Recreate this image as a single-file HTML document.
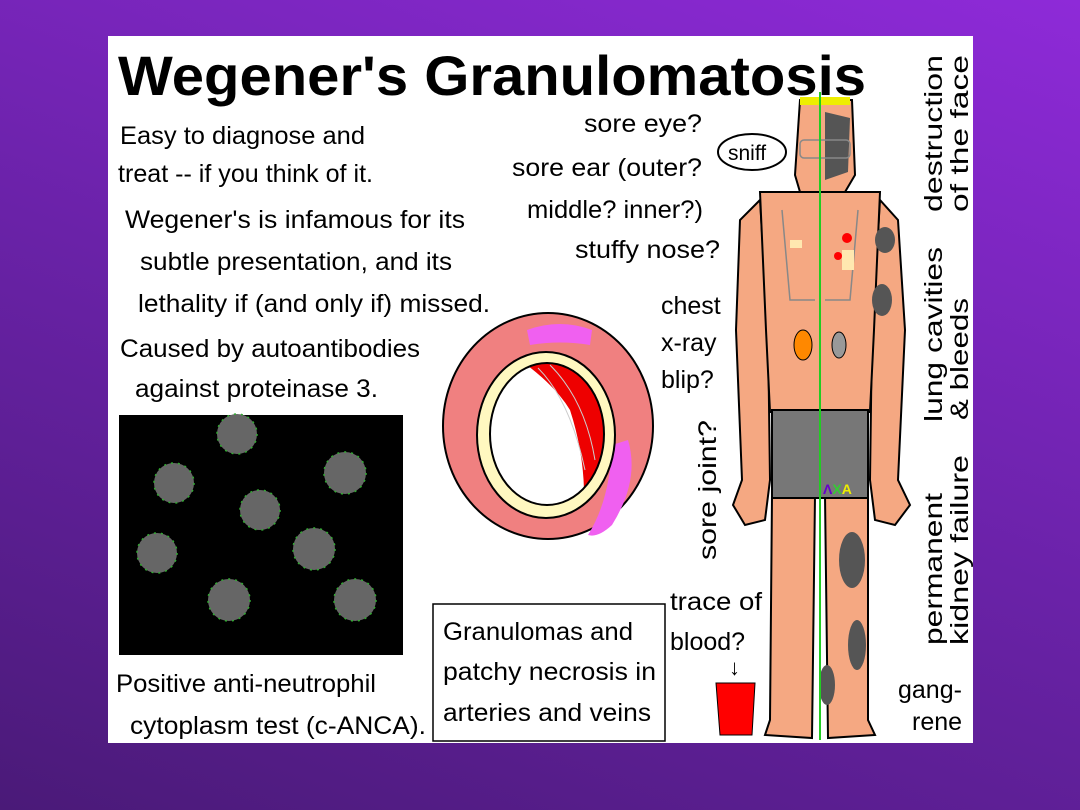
<!DOCTYPE html>
<html><head><meta charset="utf-8"><style>
html,body{margin:0;padding:0}
body{width:1080px;height:810px;overflow:hidden;background:linear-gradient(20deg,#4a1a78 0%,#6a22a8 50%,#8e2ad8 100%);position:relative;font-family:"Liberation Sans",sans-serif}
</style></head><body>
<svg width="1080" height="810" style="position:absolute;left:0;top:0" font-family="Liberation Sans, sans-serif">
<defs><clipPath id="lum"><ellipse cx="547" cy="434" rx="57" ry="71"/></clipPath></defs>
<rect x="108" y="36" width="865" height="707" fill="#fff"/>
<text x="118" y="95" font-size="56" font-weight="bold" fill="#000" textLength="748" lengthAdjust="spacingAndGlyphs">Wegener's Granulomatosis</text>
<g font-size="25" fill="#000">
<text x="120" y="144" textLength="245" lengthAdjust="spacingAndGlyphs">Easy to diagnose and</text>
<text x="118" y="182" textLength="255" lengthAdjust="spacingAndGlyphs">treat -- if you think of it.</text>
<text x="125" y="228" textLength="340" lengthAdjust="spacingAndGlyphs">Wegener's is infamous for its</text>
<text x="140" y="270" textLength="312" lengthAdjust="spacingAndGlyphs">subtle presentation, and its</text>
<text x="138" y="312" textLength="352" lengthAdjust="spacingAndGlyphs">lethality if (and only if) missed.</text>
<text x="120" y="357" textLength="300" lengthAdjust="spacingAndGlyphs">Caused by autoantibodies</text>
<text x="135" y="397" textLength="243" lengthAdjust="spacingAndGlyphs">against proteinase 3.</text>
<text x="116" y="692" textLength="260" lengthAdjust="spacingAndGlyphs">Positive anti-neutrophil</text>
<text x="130" y="734" textLength="296" lengthAdjust="spacingAndGlyphs">cytoplasm test (c-ANCA).</text>
<text x="584" y="132" textLength="118" lengthAdjust="spacingAndGlyphs">sore eye?</text>
<text x="512" y="176" textLength="190" lengthAdjust="spacingAndGlyphs">sore ear (outer?</text>
<text x="527" y="218" textLength="176" lengthAdjust="spacingAndGlyphs">middle? inner?)</text>
<text x="575" y="258" textLength="145" lengthAdjust="spacingAndGlyphs">stuffy nose?</text>
<text x="661" y="314">chest</text>
<text x="661" y="351">x-ray</text>
<text x="661" y="388">blip?</text>
<text x="670" y="610" textLength="92" lengthAdjust="spacingAndGlyphs">trace of</text>
<text x="670" y="650">blood?</text>
<text x="898" y="698">gang-</text>
<text x="912" y="730">rene</text>
<text transform="translate(716,560) rotate(-90)" textLength="140" lengthAdjust="spacingAndGlyphs">sore joint?</text>
<text transform="translate(942,212) rotate(-90)" textLength="157" lengthAdjust="spacingAndGlyphs">destruction</text>
<text transform="translate(968,212) rotate(-90)" textLength="157" lengthAdjust="spacingAndGlyphs">of the face</text>
<text transform="translate(942,422) rotate(-90)" textLength="175" lengthAdjust="spacingAndGlyphs">lung cavities</text>
<text transform="translate(968,420) rotate(-90)" textLength="122" lengthAdjust="spacingAndGlyphs">&amp; bleeds</text>
<text transform="translate(942,645) rotate(-90)" textLength="152" lengthAdjust="spacingAndGlyphs">permanent</text>
<text transform="translate(968,645) rotate(-90)" textLength="190" lengthAdjust="spacingAndGlyphs">kidney failure</text>
</g>
<!-- microscopy -->
<rect x="119" y="415" width="284" height="240" fill="#000"/>
<g fill="#666" stroke="#3a3" stroke-width="1.5" stroke-dasharray="2 5">
<circle cx="237" cy="434" r="20"/><circle cx="174" cy="483" r="20"/><circle cx="345" cy="473" r="21"/>
<circle cx="260" cy="510" r="20"/><circle cx="314" cy="549" r="21"/><circle cx="157" cy="553" r="20"/>
<circle cx="229" cy="600" r="21"/><circle cx="355" cy="600" r="21"/>
</g>
<!-- vessel -->
<ellipse cx="548" cy="426" rx="105" ry="113" fill="#f08080" stroke="#000" stroke-width="2"/>
<path d="M527 330 Q560 318 592 330 L590 345 Q560 340 530 345Z" fill="#f060f0"/>
<path d="M628 440 Q640 480 612 525 Q598 538 588 535 Q610 500 612 445Z" fill="#f060f0"/>
<ellipse cx="546" cy="435" rx="69" ry="83" fill="#fff8c0" stroke="#000" stroke-width="2"/>
<ellipse cx="547" cy="434" rx="57" ry="71" fill="#fff"/>
<g clip-path="url(#lum)"><path d="M520 360 Q555 385 570 410 Q583 450 584 490 L620 490 L620 355Z" fill="#e00"/>
<g stroke="#ccc" stroke-width="1" fill="none"><path d="M538 368 Q570 400 585 470"/><path d="M550 365 Q585 400 595 460"/></g></g>
<ellipse cx="547" cy="434" rx="57" ry="71" fill="none" stroke="#000" stroke-width="2"/>
<!-- text box -->
<rect x="433" y="604" width="232" height="137" fill="#fff" stroke="#000" stroke-width="1.5"/>
<g font-size="25"><text x="443" y="640" textLength="190" lengthAdjust="spacingAndGlyphs">Granulomas and</text>
<text x="443" y="680" textLength="213" lengthAdjust="spacingAndGlyphs">patchy necrosis in</text>
<text x="443" y="721" textLength="208" lengthAdjust="spacingAndGlyphs">arteries and veins</text></g>
<!-- cup -->
<text x="729" y="675" font-size="22">↓</text>
<path d="M716 683 L755 683 L752 735 L720 735Z" fill="#f00" stroke="#000"/>
<!-- figure -->
<g stroke="#000" stroke-width="2" fill="#f5a882">
<path d="M772 495 L770 720 L765 735 L812 738 L815 495Z"/>
<path d="M825 495 L828 738 L875 735 L868 720 L868 495Z"/>
<path d="M760 200 L740 220 L736 330 L742 480 L733 505 L745 525 L765 520 L770 480 L768 330Z"/>
<path d="M880 200 L898 220 L905 330 L898 480 L910 505 L895 525 L875 520 L870 480 L872 330Z"/>
<path d="M760 192 L880 192 L874 330 L870 412 L770 412 L766 330Z"/>
<path d="M800 100 L852 100 L855 175 L845 192 L800 192 L795 175Z"/>
</g>
<rect x="800" y="97" width="50" height="8" fill="#ee0"/>
<path d="M825 112 L850 118 L848 172 L825 180Z" fill="#555"/>
<g fill="none" stroke="#888" stroke-width="1.5"><rect x="800" y="140" width="50" height="18" rx="4"/><path d="M782 210 L790 300 L815 300 M858 210 L850 300 L825 300"/></g>
<g fill="#555"><ellipse cx="885" cy="240" rx="10" ry="13"/><ellipse cx="882" cy="300" rx="10" ry="16"/><ellipse cx="852" cy="560" rx="13" ry="28"/><ellipse cx="857" cy="645" rx="9" ry="25"/><ellipse cx="827" cy="685" rx="8" ry="20"/></g>
<g fill="#f00"><circle cx="847" cy="238" r="5"/><circle cx="838" cy="256" r="4"/></g>
<g fill="#ffe8b0"><rect x="842" y="250" width="12" height="20"/><rect x="790" y="240" width="12" height="8"/></g>
<rect x="772" y="410" width="96" height="88" fill="#777" stroke="#000" stroke-width="2"/>
<text x="823" y="494" font-size="14" font-weight="bold" fill="#60c">Λ<tspan fill="#3c3">X</tspan><tspan fill="#ee0">A</tspan></text>
<ellipse cx="803" cy="345" rx="9" ry="15" fill="#f80" stroke="#000"/>
<ellipse cx="839" cy="345" rx="7" ry="13" fill="#999" stroke="#000"/>
<ellipse cx="752" cy="152" rx="34" ry="18" fill="#fff" stroke="#000" stroke-width="2"/>
<text x="728" y="160" font-size="21">sniff</text>
<line x1="820" y1="92" x2="820" y2="740" stroke="#2c2" stroke-width="2"/>
</svg>
</body></html>
